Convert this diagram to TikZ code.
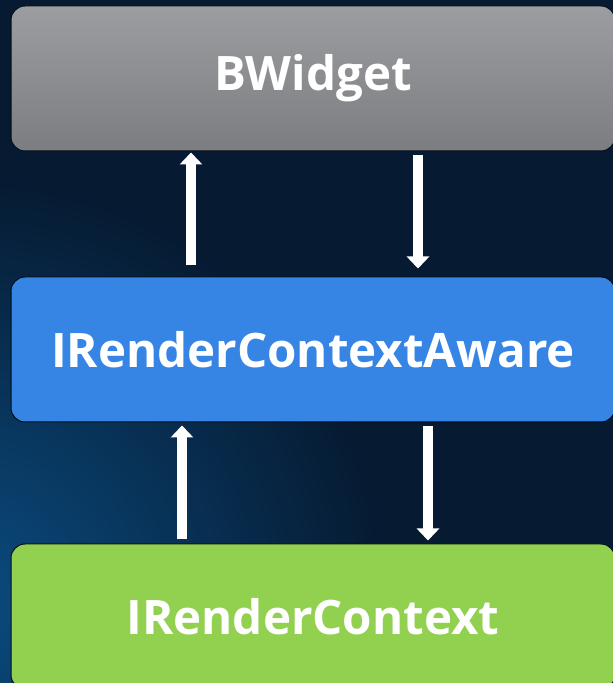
\documentclass[tikz,border=0pt]{standalone}
\usepackage{fontspec}
\setmainfont{Open Sans}
\usepackage{tikz}
\usetikzlibrary{positioning}
\usetikzlibrary{arrows.meta}

\definecolor{bgdark}{HTML}{061A31}
\definecolor{bglight}{HTML}{0A4C80}
\definecolor{boxgraytop}{HTML}{9C9DA0}
\definecolor{boxgraybot}{HTML}{7C7D81}
\definecolor{boxblue}{HTML}{3685E5}
\definecolor{boxgreen}{HTML}{92D050}

\tikzset{
  layer/.style={rounded corners=14pt,minimum width=604pt,minimum height=145pt,
    draw=black!45!bgdark,line width=1pt,text=white,
    font=\fontsize{47.5}{53}\selectfont\bfseries},
  flow/.style={draw=white,line width=10pt,-{Triangle[width=22pt,length=12pt]}}
}

\begin{document}
\begin{tikzpicture}[x=1pt,y=1pt,node distance=125pt]
  % background
  \begin{scope}
    \clip (0,0) rectangle (613,683);
    \fill[bgdark] (0,0) rectangle (613,683);
    \shade[inner color=bglight,outer color=bgdark] (-40,80) circle (430);
  \end{scope}
  \useasboundingbox (0,0) rectangle (613,683);

  \node[layer,top color=boxgraytop,bottom color=boxgraybot](widget) at (313,604.5) {BWidget};
  \node[layer,fill=boxblue,below=of widget](aware) {IRenderContextAware};
  \node[layer,fill=boxgreen,below=121pt of aware](context) {IRenderContext};

  \draw[flow,shorten <=11pt,shorten >=1pt] ([xshift=-122pt]aware.north)--([xshift=-122pt]widget.south);
  \draw[flow,shorten <=4pt,shorten >=8pt] ([xshift=105pt]widget.south)--([xshift=105pt]aware.north);
  \draw[flow,shorten <=4pt,shorten >=3pt] ([xshift=-131pt]context.north)--([xshift=-131pt]aware.south);
  \draw[flow,shorten <=4pt,shorten >=3pt] ([xshift=115pt]aware.south)--([xshift=115pt]context.north);
\end{tikzpicture}
\end{document}
